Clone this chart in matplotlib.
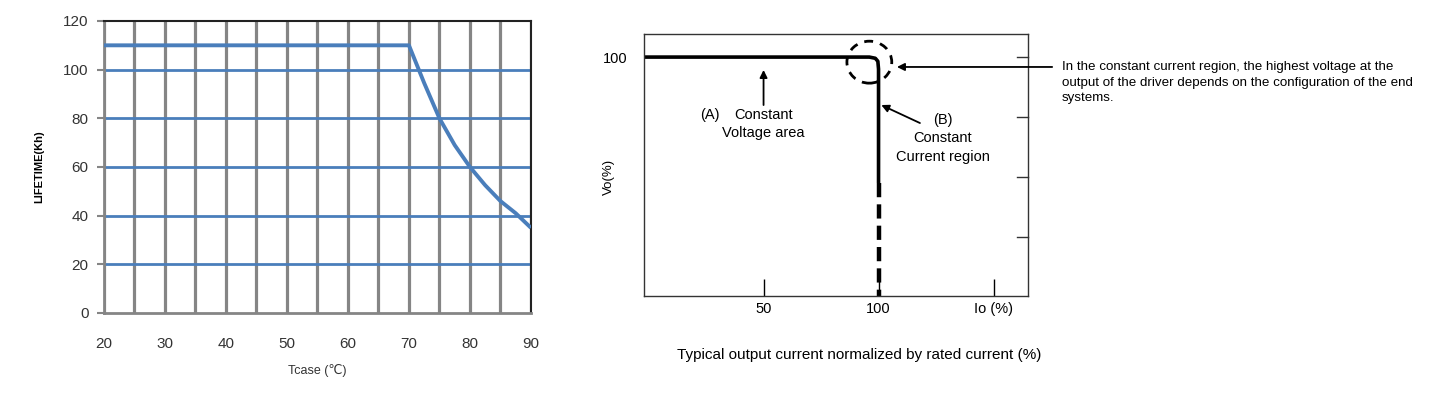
import matplotlib.pyplot as plt
from matplotlib.patches import Ellipse

# left chart: lifetime vs case temperature
tcase = [20, 70, 72.5, 75, 77.5, 80, 82.5, 85, 87.5, 90]
lifetime = [110, 110, 94.5, 80, 69, 60, 52.5, 46, 41, 35]
x_ticks = [20, 30, 40, 50, 60, 70, 80, 90]
y_ticks = [0, 20, 40, 60, 80, 100, 120]

# right chart: output characteristic
cv_io = [-2, 96, 98.6, 99.7, 100, 100]
cv_vo = [100, 100, 99.6, 98.6, 96, 58]
cc_io = [100, 100]
cc_vo = [58, 20.3]
io_ticks = [50, 100, 150]
io_labels = ["50", "100", "Io (%)"]
vo_right_ticks = [100, 80, 60, 40]

blue = "#4a7ebb"
grey = "#858585"
txt = "#333333"

fig = plt.figure(figsize=(14.4, 3.93), dpi=100)
plt.rcParams['font.family'] = ['Liberation Sans', 'DejaVu Sans']

ax1 = fig.add_axes([0.0722, 0.2036, 0.2965, 0.743])
for x in range(20, 95, 5):
    ax1.axvline(x, color=grey, lw=2.3, zorder=1)
for y in y_ticks[1:-1]:
    ax1.axhline(y, color=blue, lw=2.0, zorder=2)
ax1.plot(tcase, lifetime, color=blue, lw=2.8, zorder=3, solid_capstyle="butt")
ax1.set_xlim(20, 90)
ax1.set_ylim(0, 120)
ax1.set_xticks(x_ticks)
ax1.set_yticks(y_ticks)
ax1.tick_params(axis="x", length=0, pad=17, labelsize=11, labelcolor=txt)
ax1.tick_params(axis="y", length=5, width=1.5, color=grey, pad=6, labelsize=11, labelcolor=txt)
for s in ["left", "bottom"]:
    ax1.spines[s].set_color(grey)
    ax1.spines[s].set_linewidth(2)
for s in ["top", "right"]:
    ax1.spines[s].set_color("#222222")
    ax1.spines[s].set_linewidth(1.5)
ax1.set_ylabel("LIFETIME(Kh)", fontsize=8, fontweight="bold")
ax1.yaxis.set_label_coords(-0.14, 0.5)
ax1.set_xlabel("Tcase (\u2103)", fontsize=9, color=txt, labelpad=10)

ax2 = fig.add_axes([0.4472, 0.2468, 0.2667, 0.6667])
ax2.plot(cv_io, cv_vo, color="black", lw=2.6, solid_capstyle="butt", solid_joinstyle="round")
ax2.plot(cc_io, cc_vo, color="black", lw=3.2, linestyle=(0, (3.2, 1.6)))
ax2.add_patch(Ellipse((96, 98.3), 19.5, 14, fill=False, ec="black", lw=2,
                      linestyle=(0, (3.2, 2.6))))
ax2.set_xlim(-2, 165)
ax2.set_ylim(20.3, 107.7)
ax2.set_xticks(io_ticks)
ax2.set_xticklabels(io_labels)
ax2.set_yticks([100])
ax2.tick_params(axis="x", direction="in", length=12, width=1, pad=4, labelsize=10.5)
ax2.tick_params(axis="y", length=0, pad=12, labelsize=10.5)
for s in ax2.spines.values():
    s.set_linewidth(1)
    s.set_color("#333333")
for v in vo_right_ticks:
    ax2.plot([160.2, 165], [v, v], color="#333333", lw=1, clip_on=False)
ax2.set_ylabel("Vo(%)", fontsize=9.5)
ax2.yaxis.set_label_coords(-0.075, 0.455)
ax2.set_xlabel("Typical output current normalized by rated current (%)", fontsize=11)
ax2.xaxis.set_label_coords(0.56, -0.2)

arr = dict(arrowstyle="-|>", color="black", lw=1.3, mutation_scale=11, shrinkA=0, shrinkB=0)
ax2.annotate("", xy=(50, 95.7), xytext=(50, 84), arrowprops=arr)
ax2.annotate("", xy=(101.2, 84), xytext=(118, 78), arrowprops=arr)
ax2.annotate("", xy=(108, 96.7), xytext=(175.5, 96.7), arrowprops=arr, annotation_clip=False)
fs = 10.5
ax2.text(26.5, 80.7, "(A)", fontsize=fs, ha="center", va="center")
ax2.text(50, 80.7, "Constant", fontsize=fs, ha="center", va="center")
ax2.text(50, 74.7, "Voltage area", fontsize=fs, ha="center", va="center")
ax2.text(128, 79, "(B)", fontsize=fs, ha="center", va="center")
ax2.text(128, 73, "Constant", fontsize=fs, ha="center", va="center")
ax2.text(128, 66.7, "Current region", fontsize=fs, ha="center", va="center")

fig.text(1062 / 1440, 1 - 61 / 393,
         "In the constant current region, the highest voltage at the\n"
         "output of the driver depends on the configuration of the end\n"
         "systems.",
         fontsize=9.6, va="top", ha="left", linespacing=1.4,
         family=['Liberation Sans Narrow', 'Liberation Sans', 'DejaVu Sans'])

fig.savefig("out.png", dpi=100)
